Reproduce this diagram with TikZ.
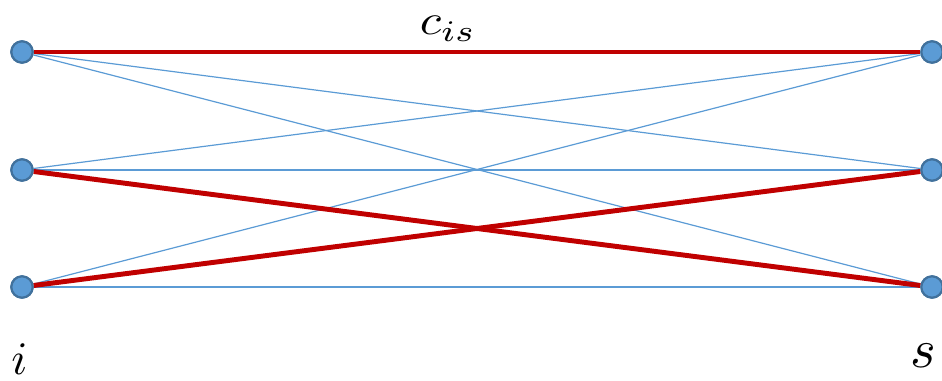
\documentclass[tikz,border=0pt]{standalone}
\begin{document}
\begin{tikzpicture}[x=0.75pt,y=-0.75pt,
  vtx/.style={circle,fill=vfill,draw=vedge,line width=1.6pt,minimum size=16pt,inner sep=0pt},
  thin/.style={draw=lblue,line width=0.9pt},
  thick/.style={draw=lred,line width=3.7pt},
  lab/.style={inner sep=0pt,anchor=base}]
\definecolor{vfill}{HTML}{5B9BD5}
\definecolor{vedge}{HTML}{41719C}
\definecolor{lblue}{HTML}{5B9BD5}
\definecolor{lred}{HTML}{C00000}
\useasboundingbox (0,0) rectangle (942,381);
\node[vtx] (L1) at (22,52) {};
\node[vtx] (L2) at (22,170) {};
\node[vtx] (L3) at (22,287) {};
\node[vtx] (R1) at (932,52) {};
\node[vtx] (R2) at (932,170) {};
\node[vtx] (R3) at (932,287) {};
\path[thin] (L1) -- (R2);
\path[thin] (L1) -- (R3);
\path[thin] (L2) -- (R1);
\path[thin] (L2) -- (R2);
\path[thin] (L3) -- (R1);
\path[thin] (L3) -- (R3);
\path[thick] (L1) -- (R1);
\path[thick] (L2) -- (R3);
\path[thick] (L3) -- (R2);
\node[vtx] at (L1) {};
\node[vtx] at (L2) {};
\node[vtx] at (L3) {};
\node[vtx] at (R1) {};
\node[vtx] at (R2) {};
\node[vtx] at (R3) {};
\node[lab] (cis) at (448,35) {\scalebox{3.7}[3.2]{$c_{is}$}};
\node[lab] (ilab) at (19.5,374) {\scalebox{3.5}{$i$}};
\node[lab] (slab) at (923,367) {\scalebox{4.1}{$s$}};
\end{tikzpicture}
\end{document}
